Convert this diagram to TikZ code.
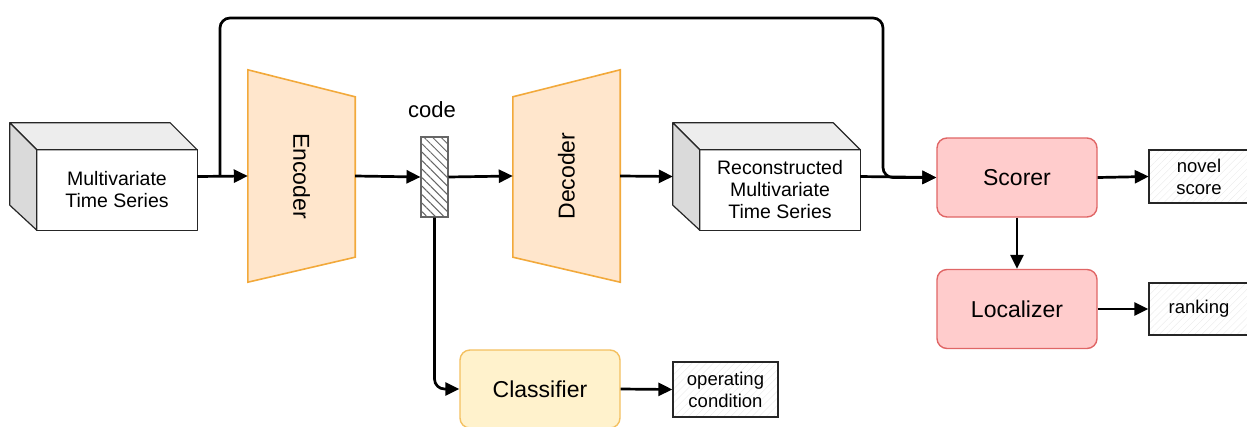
\documentclass[tikz,border=0pt]{standalone}
\usepackage{fontspec}
\setmainfont{Liberation Sans}
\usetikzlibrary{arrows.meta,patterns.meta,calc}

\definecolor{encfill}{HTML}{FFE6CC}
\definecolor{encdraw}{HTML}{F2A93B}
\definecolor{redfill}{HTML}{FFCCCC}
\definecolor{reddraw}{HTML}{E06666}
\definecolor{yelfill}{HTML}{FFF2CC}
\definecolor{yeldraw}{HTML}{F4C060}
\definecolor{cubetop}{HTML}{EDEDED}
\definecolor{cubeleft}{HTML}{DADADA}

\tikzset{
  conn/.style={line width=2.7pt, -{Triangle[length=14pt,width=13pt]}},
  cubebox/.style={minimum width=187pt, minimum height=107pt, inner sep=0pt},
  cubeface/.style={draw=black!85, line width=1.2pt, line join=round},
  cubetext/.style={font=\fontsize{19.5}{22}\selectfont, align=center, text=black},
  trapbox/.style={minimum width=107pt, minimum height=212pt, inner sep=0pt},
  trapshape/.style={fill=encfill, draw=encdraw, line width=1.6pt},
  bigtext/.style={font=\fontsize{23}{26}\selectfont, text=black},
  redblock/.style={draw=reddraw, fill=redfill, line width=1.4pt, rounded corners=10pt,
    minimum width=160pt, minimum height=79pt, inner sep=0pt, bigtext},
  yelblock/.style={draw=yeldraw, fill=yelfill, line width=1.4pt, rounded corners=10pt,
    minimum width=160pt, minimum height=78pt, inner sep=0pt, bigtext},
  sketchbox/.style={draw=black!85, line width=1.3pt, inner sep=0pt,
    pattern={Lines[angle=45,distance=5pt,line width=0.5pt]}, pattern color=black!7,
    font=\fontsize{18.5}{22}\selectfont, align=center, text=black},
  codebox/.style={draw=black!60, line width=1.2pt, inner sep=0pt,
    minimum width=27pt, minimum height=80pt,
    pattern={Lines[angle=-45,distance=6pt,line width=1pt]}, pattern color=black!60},
}

% draws a box-shaped solid inside the bounding node #1, depth 27pt
\newcommand{\drawcube}[1]{%
  \fill[white] ([xshift=27pt,yshift=-27pt]#1.north west) rectangle (#1.south east);
  \filldraw[cubeface, fill=cubetop] (#1.north west) -- ([xshift=-27pt]#1.north east)
    -- ([yshift=-27pt]#1.north east) -- ([xshift=27pt,yshift=-27pt]#1.north west) -- cycle;
  \filldraw[cubeface, fill=cubeleft] (#1.north west) -- ([xshift=27pt,yshift=-27pt]#1.north west)
    -- ([xshift=27pt]#1.south west) -- ([yshift=25pt]#1.south west) -- cycle;
  \draw[cubeface] ([xshift=27pt,yshift=-27pt]#1.north west) rectangle (#1.south east);
}

\begin{document}
\begin{tikzpicture}[x=1pt,y=-1pt]
\useasboundingbox (0,0) rectangle (1247,426);

% input and reconstructed series
\node[cubebox] (mts) at (103.5,176.5) {};
\drawcube{mts}
\node[cubetext] (mtslabel) at ([xshift=13.5pt,yshift=-13.5pt]mts.center) {Multivariate\\Time Series};

\node[cubebox] (recon) at (766.5,176.5) {};
\drawcube{recon}
\node[cubetext] (reconlabel) at ([xshift=13.5pt,yshift=-13.5pt]recon.center) {Reconstructed\\Multivariate\\Time Series};

% encoder and decoder
\node[trapbox] (enc) at (301.5,176) {};
\draw[trapshape] (enc.north west) -- ([yshift=-27pt]enc.north east)
  -- ([yshift=25pt]enc.south east) -- (enc.south west) -- cycle;
\node[bigtext, rotate=-90] (enclabel) at (enc.center) {Encoder};

\node[trapbox] (dec) at (566.5,176) {};
\draw[trapshape] ([yshift=-27pt]dec.north west) -- (dec.north east)
  -- (dec.south east) -- ([yshift=25pt]dec.south west) -- cycle;
\node[bigtext, rotate=90] (declabel) at (dec.center) {Decoder};

% latent code
\node[codebox] (code) at (434.5,177) {};
\node[font=\fontsize{22}{24}\selectfont, text=black] (codelabel) at (432,110) {code};

% scoring, localisation and classification
\node[redblock] (scorer) at (1017,177.5) {Scorer};
\node[redblock] (local) at (1017,309) {Localizer};
\node[yelblock] (classif) at (540,389) {Classifier};

% outputs
\node[sketchbox, minimum width=100pt, minimum height=53pt] (novel) at (1199,176.5) {novel\\score};
\node[sketchbox, minimum width=100pt, minimum height=52pt] (rank) at (1199,309) {ranking};
\node[sketchbox, minimum width=105pt, minimum height=55pt] (opcond) at (725.5,389.5) {operating\\condition};

% connectors
\draw[conn] (mts.east) -- (enc.west);
\coordinate (fb) at (220,176.5);
\draw[conn, rounded corners=10pt] (fb) |- (883,18) |- (scorer.west);
\draw[conn] (enc.east) -- (code.west);
\draw[conn] (code.east) -- (dec.west);
\draw[conn] (dec.east) -- (recon.west);
\draw[conn] (recon.east) -- (scorer.west);
\draw[conn] (scorer.east) -- (novel.west);
\draw[conn] (scorer.south) -- (local.north);
\draw[conn] (local.east) -- (rank.west);
\draw[conn, rounded corners=10pt] (code.south) |- (classif.west);
\draw[conn] (classif.east) -- (opcond.west);
\end{tikzpicture}
\end{document}
